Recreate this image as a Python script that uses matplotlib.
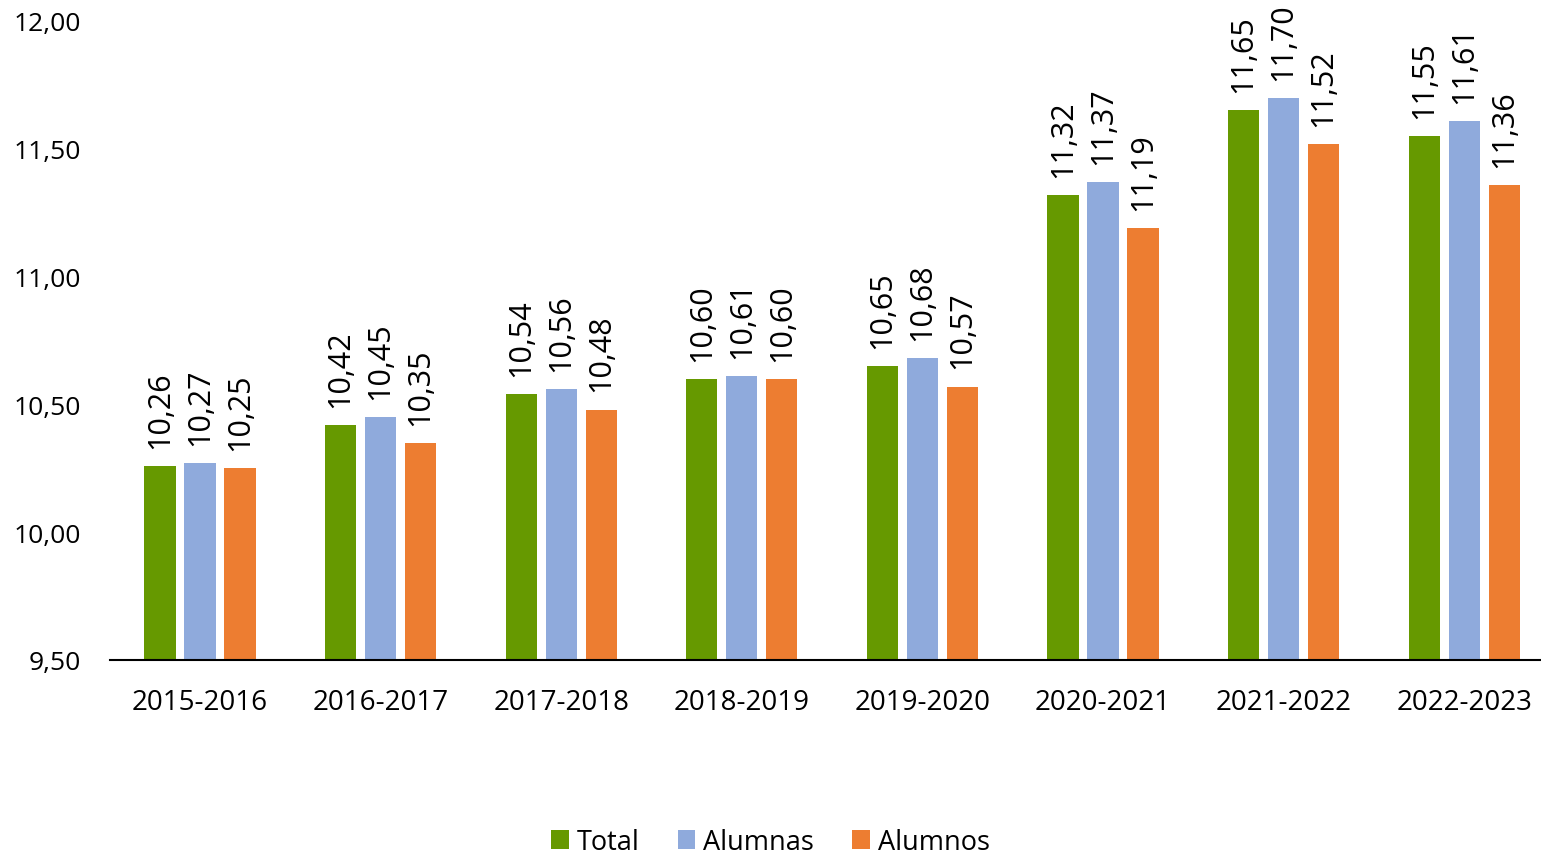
import matplotlib
matplotlib.use("Agg")
import matplotlib.pyplot as plt
import numpy as np

categories = ["2015-2016", "2016-2017", "2017-2018", "2018-2019",
              "2019-2020", "2020-2021", "2021-2022", "2022-2023"]
total = [10.26, 10.42, 10.54, 10.60, 10.65, 11.32, 11.65, 11.55]
alumnas = [10.27, 10.45, 10.56, 10.61, 10.68, 11.37, 11.70, 11.61]
alumnos = [10.25, 10.35, 10.48, 10.60, 10.57, 11.19, 11.52, 11.36]
series_names = ["Total", "Alumnas", "Alumnos"]
colors = ["#669900", "#8FAADC", "#ED7D31"]
yticks = [9.5, 10.0, 10.5, 11.0, 11.5, 12.0]

plt.rcParams['font.family'] = ['Open Sans', 'DejaVu Sans']

W, H = 1541, 854
fig = plt.figure(figsize=(W / 100, H / 100), dpi=100)
left_px, right_px = 109.7, 1554.5
ax = fig.add_axes([left_px / W, 1 - 661 / H, (right_px - left_px) / W, (661 - 22) / H])

x = np.arange(len(categories))
bw = 0.172
step = 0.2215
for i, (vals, name, c) in enumerate(zip([total, alumnas, alumnos], series_names, colors)):
    pos = x + (i - 1) * step
    ax.bar(pos, np.array(vals) - 9.5, bottom=9.5, width=bw, color=c, label=name)
    for xp, v in zip(pos, vals):
        ax.annotate(f"{v:.2f}".replace(".", ","), (xp, v), xytext=(0, 13),
                    textcoords="offset points", rotation=90, ha="center", va="bottom",
                    fontsize=22)

ax.set_xlim(-0.5, len(categories) - 0.5)
ax.set_ylim(9.5, 12.0)
ax.set_yticks(yticks)
ax.set_yticklabels([f"{t:.2f}".replace(".", ",") for t in yticks], fontsize=19)
ax.set_xticks(x)
ax.set_xticklabels(categories, fontsize=20)
ax.tick_params(axis="y", length=0, pad=21)
ax.tick_params(axis="x", length=0, pad=20)
for s in ["top", "right", "left"]:
    ax.spines[s].set_visible(False)
ax.spines["bottom"].set_linewidth(1.5)
ax.spines["bottom"].set_color("black")
ax.spines["bottom"].set_clip_on(False)

handles, labels = ax.get_legend_handles_labels()
fig.legend(handles, labels, loc="center", bbox_to_anchor=(0.5, 1 - 843 / H), ncol=3,
           frameon=False, fontsize=19.5, handlelength=0.65, handleheight=0.65,
           handletextpad=0.3, columnspacing=1.4)

fig.savefig("out.png", dpi=100)
